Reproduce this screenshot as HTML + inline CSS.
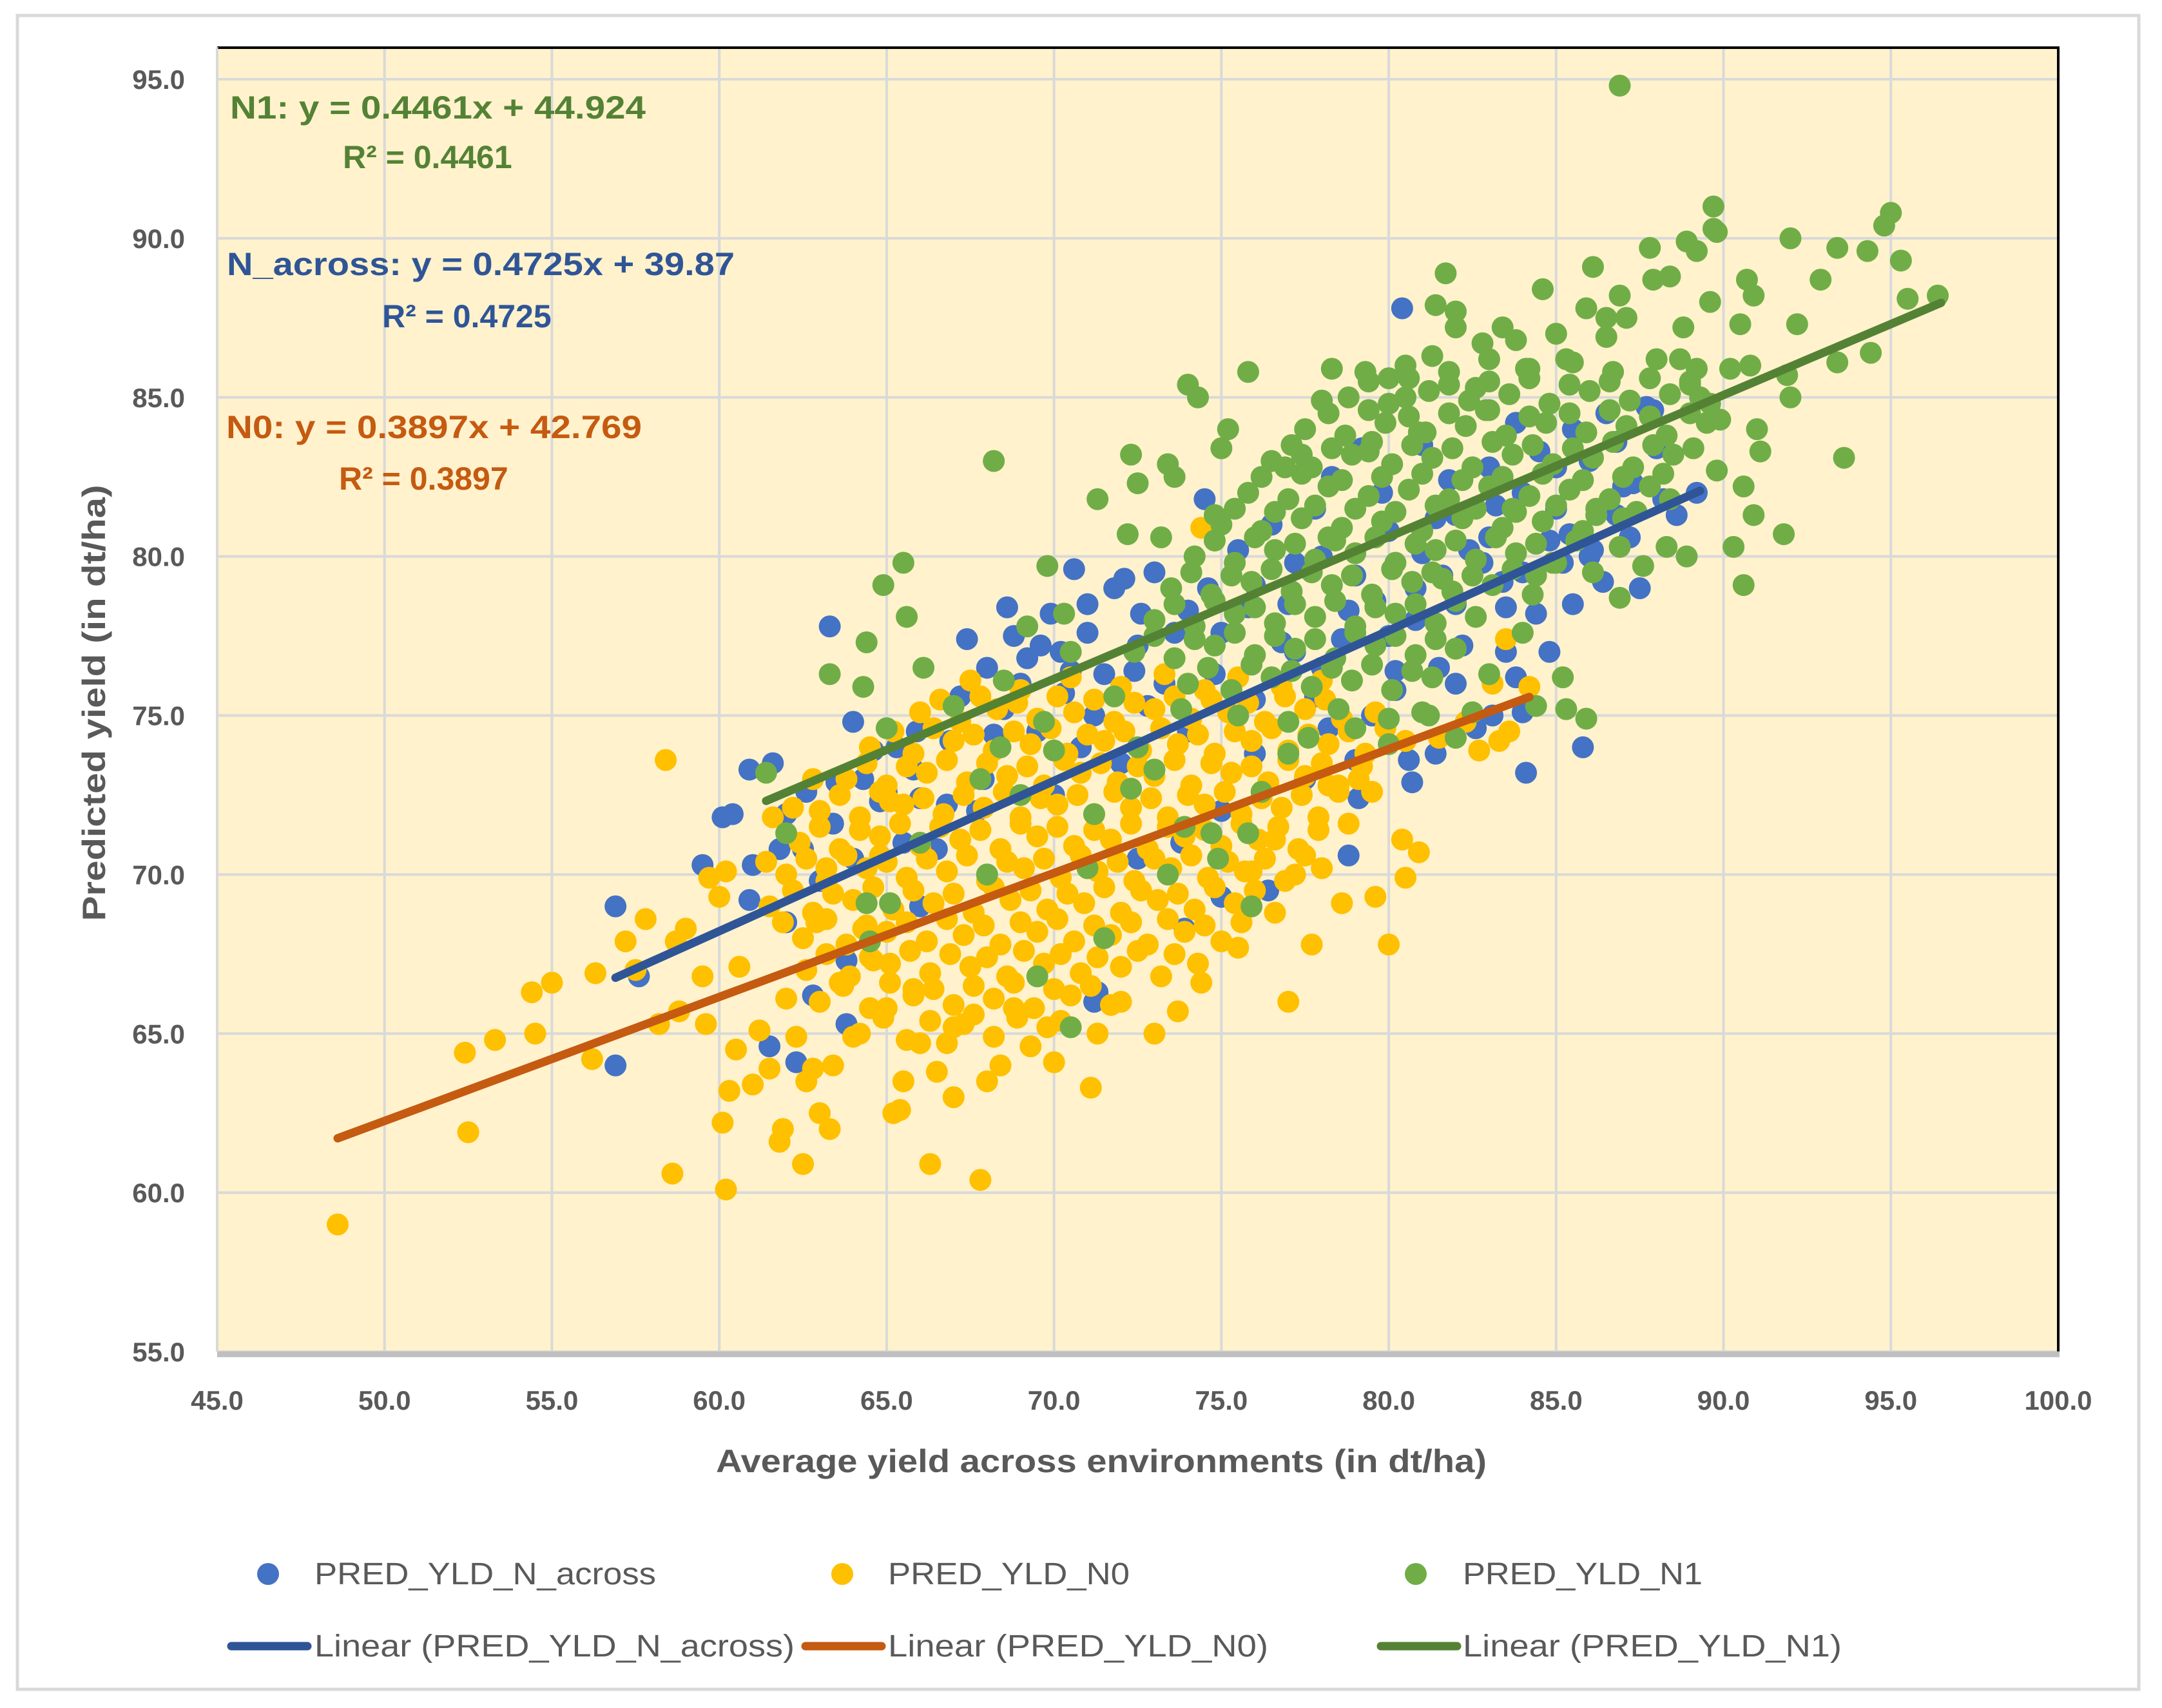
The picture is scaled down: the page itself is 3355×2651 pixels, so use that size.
<!DOCTYPE html>
<html><head><meta charset="utf-8"><style>
html,body{margin:0;padding:0;background:#fff;}
svg{display:block;}
text{font-family:"Liberation Sans",sans-serif;}
</style></head><body>
<svg id="chart" width="3355" height="2651" viewBox="0 0 3355 2651" xmlns="http://www.w3.org/2000/svg">
<rect x="0" y="0" width="3355" height="2651" fill="#fff"/>
<rect x="27" y="24" width="3292" height="2598" fill="none" stroke="#d9d9d9" stroke-width="5"/>
<rect x="337" y="73" width="2857" height="2025" fill="#fff2cc"/>
<g id="grid"></g>
<g id="ptsB"></g>
<g id="ptsY"></g>
<g id="ptsG"></g>
<g id="trends"></g>
<line x1="337" y1="74" x2="3196" y2="74" stroke="#000" stroke-width="4"/>
<line x1="3194" y1="73" x2="3194" y2="2098" stroke="#000" stroke-width="4"/>
<line x1="337" y1="2102" x2="3196" y2="2102" stroke="#bfbfbf" stroke-width="9"/>
<line x1="337" y1="73" x2="337" y2="2098" stroke="#d9d9d9" stroke-width="3"/>
<g id="yticks"></g>
<g id="xticks"></g>
<text x="1709" y="2285" text-anchor="middle" font-size="50" font-weight="bold" fill="#595959" textLength="1196" lengthAdjust="spacingAndGlyphs">Average yield across environments (in dt/ha)</text>
<text transform="translate(163,1091) rotate(-90)" text-anchor="middle" font-size="50" font-weight="bold" fill="#595959" textLength="677" lengthAdjust="spacingAndGlyphs">Predicted yield  (in dt/ha)</text>
<g font-size="50" font-weight="bold" fill="#548235">
<text x="357" y="184" textLength="645" lengthAdjust="spacingAndGlyphs">N1: y = 0.4461x + 44.924</text>
<text x="532" y="261">R² = 0.4461</text></g>
<g font-size="50" font-weight="bold" fill="#2f5597">
<text x="352" y="427" textLength="788" lengthAdjust="spacingAndGlyphs">N_across: y = 0.4725x + 39.87</text>
<text x="593" y="508">R² = 0.4725</text></g>
<g font-size="50" font-weight="bold" fill="#c55a11">
<text x="351" y="680" textLength="645" lengthAdjust="spacingAndGlyphs">N0: y = 0.3897x + 42.769</text>
<text x="526" y="760">R² = 0.3897</text></g>
<g font-size="48" fill="#595959">
<g><circle cx="416" cy="2443" r="17" fill="#4472c4"/><text x="488" y="2459" textLength="530" lengthAdjust="spacingAndGlyphs">PRED_YLD_N_across</text></g>
<g><circle cx="1307" cy="2443" r="17" fill="#ffc000"/><text x="1378" y="2459" textLength="375" lengthAdjust="spacingAndGlyphs">PRED_YLD_N0</text></g>
<g><circle cx="2197" cy="2443" r="17" fill="#70ad47"/><text x="2270" y="2459" textLength="372" lengthAdjust="spacingAndGlyphs">PRED_YLD_N1</text></g>
<g><line x1="359" y1="2555" x2="477" y2="2555" stroke="#2f5597" stroke-width="13" stroke-linecap="round"/><text x="488" y="2571" textLength="745" lengthAdjust="spacingAndGlyphs">Linear (PRED_YLD_N_across)</text></g>
<g><line x1="1250" y1="2555" x2="1368" y2="2555" stroke="#c55a11" stroke-width="13" stroke-linecap="round"/><text x="1378" y="2571" textLength="590" lengthAdjust="spacingAndGlyphs">Linear (PRED_YLD_N0)</text></g>
<g><line x1="2143" y1="2555" x2="2261" y2="2555" stroke="#548235" stroke-width="13" stroke-linecap="round"/><text x="2270" y="2571" textLength="588" lengthAdjust="spacingAndGlyphs">Linear (PRED_YLD_N1)</text></g>
</g>
</svg>
<script>
const xTicks = [45,50,55,60,65,70,75,80,85,90,95,100];
const yTicks = [55,60,65,70,75,80,85,90,95];
const trendN = {slope:0.4725, icpt:39.87, x0:56.9, x1:89.3};
const trendN0 = {slope:0.3897, icpt:42.769, x0:48.6, x1:84.2};
const trendN1 = {slope:0.4461, icpt:44.924, x0:61.4, x1:96.5};
const ptsAcross = [[89.2,82.0],[80.4,87.8],[74.5,81.8],[63.3,77.8],[64.0,74.8],[56.9,69.0],[56.9,64.0],[57.6,66.8],[59.5,70.3],[60.1,71.8],[60.4,71.9],[60.9,73.3],[61.6,73.5],[62.0,71.9],[60.9,69.2],[61.5,64.6],[62.3,64.1],[63.5,72.9],[64.6,73.9],[65.3,74.0],[66.0,72.4],[66.9,74.2],[67.4,77.4],[68.6,78.4],[69.2,76.8],[69.9,78.2],[70.5,76.4],[71.0,77.6],[71.8,79.0],[72.1,79.3],[71.2,66.0],[71.3,66.3],[83.5,78.4],[84.1,73.2],[84.0,75.1],[85.8,74.0],[84.8,77.0],[85.4,80.7],[86.1,80.2],[87.7,84.7],[87.9,84.6],[87.3,82.3],[88.6,81.3],[78.8,70.6],[79.1,72.4],[80.7,72.9],[81.4,73.8],[82.6,74.6],[83.1,75.0],[80.6,73.6],[76.4,69.5],[75.0,69.3],[73.9,68.3],[65.0,72.6],[66.5,70.8],[67.7,72.0],[65.5,71.0],[66.8,72.2],[67.9,73.0],[68.5,75.2],[69.5,74.5],[70.3,75.7],[71.5,76.3],[72.5,77.2],[73.3,76.0],[74.0,78.3],[75.0,77.6],[76.0,79.1],[77.0,78.5],[78.0,80.0],[79.0,79.4],[80.0,80.8],[81.0,80.1],[82.0,81.3],[83.0,80.6],[84.0,82.0],[85.0,81.5],[86.0,83.0],[87.0,82.2],[88.0,83.4],[70.0,72.5],[72.0,73.5],[74.0,74.5],[76.0,75.5],[78.0,76.5],[80.0,77.5],[82.0,78.5],[84.0,79.5],[86.0,80.0],[68.0,70.0],[66.0,69.0],[64.0,70.5],[62.5,70.8],[63.0,69.8],[75.5,80.2],[76.5,81.0],[77.2,79.8],[73.0,79.5],[71.0,78.5],[69.0,76.0],[73.8,71.0],[72.5,70.5],[75.0,72.0],[77.5,73.0],[79.5,75.0],[81.5,76.5],[83.5,77.0],[85.5,78.5],[87.5,79.0],[83.0,82.8],[84.5,83.3],[85.5,84.0],[86.5,84.5],[81.0,83.5],[79.8,82.0],[78.3,82.5],[64.3,73.0],[65.8,73.3],[68.2,74.4],[70.8,74.0],[72.8,75.3],[74.8,76.3],[76.8,77.3],[78.8,78.3],[80.8,79.0],[82.8,79.8],[84.8,80.5],[86.8,81.3],[62.0,68.5],[63.8,67.3],[61.0,70.3],[76.0,73.8],[78.2,74.6],[80.2,75.8],[82.2,77.2],[68.8,77.5],[70.6,79.6],[72.6,78.2],[77.8,81.5],[79.2,83.4],[81.8,82.4],[83.8,84.2],[62.8,66.2],[63.8,65.3],
[64.8,72.3],[65.9,74.5],[67.2,75.6],[68.0,76.5],[69.6,77.2],[70.2,77.0],[71.2,75.0],[72.4,76.4],[73.6,77.6],[74.6,79.0],[75.8,78.4],[77.2,77.0],[78.6,77.4],[79.6,78.6],[80.8,78.0],[81.6,79.4],[82.4,80.2],[83.4,79.2],[84.4,78.2],[85.2,79.8],[86.4,79.2],[87.2,80.6],[88.2,81.8],[86.8,83.6],[85.0,82.8],[83.2,81.6],[81.4,81.2],[80.2,76.4],[82.0,76.0],[83.8,76.2],[79.0,73.6],[77.8,75.6],[62.6,72.6],[61.8,70.8],[63.4,71.6]];
const ptsN0 = [[48.6,59.0],[52.4,64.4],[52.5,61.9],[53.3,64.8],[54.4,66.3],[54.5,65.0],[55.0,66.6],[56.2,64.2],[56.3,66.9],[57.2,67.9],[57.5,67.0],[57.8,68.6],[58.2,65.3],[58.4,73.6],[58.6,60.6],[58.7,67.9],[58.8,65.7],[59.0,68.3],[59.5,66.8],[59.6,65.3],[59.7,69.9],[60.0,69.3],[60.1,62.2],[60.2,60.1],[60.3,63.2],[60.5,64.5],[60.2,70.1],[60.6,67.1],[61.0,63.4],[61.2,65.1],[61.5,63.9],[61.8,61.6],[61.9,62.0],[61.4,70.4],[61.6,71.8],[62.0,66.1],[62.3,64.9],[62.5,60.9],[62.6,63.5],[62.8,63.9],[63.0,62.5],[63.3,62.0],[63.4,64.0],[62.9,68.5],[63.2,70.2],[62.2,72.1],[62.8,73.0],[63.6,66.6],[64.0,64.9],[64.3,68.3],[64.6,67.3],[64.8,70.6],[65.0,65.8],[65.2,62.5],[65.4,62.6],[65.5,63.5],[65.1,72.3],[65.8,66.4],[66.0,64.7],[66.3,60.9],[66.5,63.8],[66.8,64.7],[67.0,63.0],[67.3,65.3],[67.8,60.4],[68.0,63.5],[68.4,64.0],[68.8,65.8],[69.3,64.6],[69.8,65.2],[70.0,64.1],[71.1,63.3],[71.3,65.0],[72.0,66.0],[72.3,68.5],[73.0,65.0],[73.7,65.7],[74.4,66.6],[75.5,67.7],[77.0,66.0],[77.7,67.8],[78.6,69.1],[79.6,69.3],[80.0,67.8],[80.5,69.9],[80.9,70.7],[80.4,71.1],[81.5,74.3],[82.3,74.8],[82.7,73.9],[83.3,74.2],[83.6,74.5],[84.2,75.9],[83.1,76.0],[83.5,77.4],[75.9,70.1],[76.6,71.1],[77.2,70.0],[78.8,71.6],[79.5,72.6],[78.2,72.8],[79.1,73.0],[74.4,80.9],
[67.5,76.1],[69.0,75.8],[70.5,76.2],[72.0,75.9],[73.3,76.3],[74.5,75.8],[75.5,76.2],[76.8,75.9],[78.0,76.1],
[66.0,75.1],[67.2,74.8],[68.3,75.2],[69.5,74.9],[70.6,75.1],[71.8,74.8],[73.0,75.2],[74.1,74.9],[75.2,75.1],[76.3,74.8],[77.5,75.2],[78.6,74.9],[79.6,75.1],
[64.5,74.0],[65.8,73.8],[67.0,74.2],[68.2,73.9],[69.3,74.1],[70.4,73.8],[71.5,74.2],[72.6,73.9],[73.7,74.1],[74.8,73.8],[75.9,74.2],[77.0,73.9],[78.2,74.1],[79.3,73.8],[80.5,74.2],
[63.8,73.0],[65.0,72.8],[66.2,73.2],[67.4,72.9],[68.6,73.1],[69.7,72.8],[70.8,73.2],[71.9,72.9],[73.0,73.1],[74.1,72.8],[75.3,73.2],[76.4,72.9],[77.5,73.1],[78.5,72.8],
[63.0,72.0],[64.2,71.8],[65.5,72.2],[66.7,71.9],[67.9,72.1],[69.0,71.8],[70.1,72.2],[71.2,71.9],[72.3,72.1],[73.4,71.8],[74.5,72.2],[75.6,71.9],[76.8,72.1],[77.9,71.8],
[62.4,71.0],[63.6,70.8],[64.8,71.2],[66.0,70.9],[67.2,71.1],[68.4,70.8],[69.5,71.2],[70.6,70.9],[71.7,71.1],[72.8,70.8],[73.9,71.2],[75.0,70.9],[76.1,71.1],[77.3,70.8],
[62.0,70.0],[63.2,69.8],[64.4,70.2],[65.6,69.9],[66.8,70.1],[68.0,69.8],[69.1,70.2],[70.2,69.9],[71.3,70.1],[72.4,69.8],[73.5,70.2],[74.6,69.9],[75.7,70.1],[76.9,69.8],[78.0,70.2],
[61.5,69.0],[62.8,68.8],[64.0,69.2],[65.2,68.9],[66.4,69.1],[67.6,68.8],[68.7,69.2],[69.8,68.9],[70.9,69.1],[72.0,68.8],[73.1,69.2],[74.2,68.9],[75.4,69.1],[76.6,68.8],
[62.5,68.0],[63.8,67.8],[65.0,68.2],[66.2,67.9],[67.3,68.1],[68.4,67.8],[69.5,68.2],[70.6,67.9],[71.7,68.1],[72.8,67.8],[73.9,68.2],[75.0,67.9],
[62.6,67.0],[63.9,66.8],[65.1,67.2],[66.3,66.9],[67.5,67.1],[68.6,66.8],[69.7,67.2],[70.8,66.9],[72.0,67.1],[73.2,66.8],[74.3,67.2],
[63.0,66.0],[64.5,65.8],[65.8,66.2],[67.0,65.9],[68.2,66.1],[69.4,65.8],[70.5,66.2],[71.7,65.9],
[64.2,65.0],[65.6,64.8],[67.0,65.2],[68.2,64.9],
[66.6,75.5],[67.8,75.6],[68.9,75.4],[70.1,75.6],[71.2,75.5],[72.4,75.4],[73.6,75.6],[74.7,75.5],[75.8,75.4],[76.9,75.6],[78.1,75.5],
[65.2,74.5],[66.4,74.6],[67.6,74.4],[68.8,74.5],[69.9,74.6],[71.0,74.4],[72.1,74.5],[73.2,74.6],[74.3,74.4],[75.4,74.5],[76.5,74.6],[77.6,74.4],[78.8,74.5],[79.9,74.6],
[64.4,73.5],[65.6,73.4],[66.8,73.6],[68.0,73.5],[69.2,73.4],[70.3,73.6],[71.4,73.5],[72.5,73.4],[73.6,73.6],[74.7,73.5],[75.9,73.4],[77.0,73.6],[78.0,73.5],[79.2,73.4],
[63.6,72.5],[64.8,72.6],[66.1,72.4],[67.3,72.5],[68.5,72.6],[69.6,72.4],[70.7,72.5],[71.8,72.6],[72.9,72.4],[74.0,72.5],[75.1,72.6],[76.2,72.4],[77.4,72.5],[78.5,72.6],
[63.0,71.5],[64.2,71.4],[65.4,71.6],[66.6,71.5],[67.8,71.4],[69.0,71.6],[70.1,71.5],[71.2,71.4],[72.3,71.6],[73.4,71.5],[74.5,71.4],[75.6,71.6],[76.7,71.5],[77.9,71.4],
[62.6,70.5],[63.8,70.6],[65.0,70.4],[66.2,70.5],[67.4,70.6],[68.6,70.4],[69.7,70.5],[70.8,70.6],[71.9,70.4],[73.0,70.5],[74.1,70.6],[75.2,70.4],[76.3,70.5],[77.5,70.6],
[62.2,69.5],[63.4,69.4],[64.6,69.6],[65.8,69.5],[67.0,69.4],[68.2,69.6],[69.3,69.5],[70.4,69.4],[71.5,69.6],[72.6,69.5],[73.7,69.4],[74.8,69.6],[76.0,69.5],
[61.9,68.5],[63.2,68.6],[64.4,68.4],[65.6,68.5],[66.8,68.6],[67.9,68.4],[69.0,68.5],[70.1,68.6],[71.2,68.4],[72.3,68.5],[73.4,68.6],[74.5,68.4],[75.6,68.5],
[63.2,67.5],[64.5,67.4],[65.7,67.6],[66.9,67.5],[68.0,67.4],[69.1,67.6],[70.2,67.5],[71.3,67.4],[72.5,67.6],[73.6,67.5],
[63.7,66.5],[65.1,66.6],[66.4,66.4],[67.6,66.5],[68.8,66.6],[70.0,66.4],[71.1,66.5],
[64.9,65.5],[66.3,65.4],[67.6,65.6],[68.9,65.5],[70.2,65.4]];
const ptsN1 = [[86.9,94.8],[89.7,91.0],[89.7,90.3],[95.0,90.8],[94.8,90.4],[95.3,89.3],[96.4,88.2],[95.5,88.1],[94.3,89.6],[93.4,89.7],[92.0,90.0],[92.9,88.7],[93.4,86.1],[94.4,86.4],[93.6,83.1],[91.8,80.7],[90.6,79.1],[90.3,80.3],[90.6,82.2],[90.9,81.3],[91.1,83.3],[92.0,85.0],[68.2,83.0],[65.5,79.8],[64.9,79.1],[65.6,78.1],[69.8,79.7],[63.3,76.3],[64.4,77.3],[64.3,75.9],[65.0,74.6],[61.4,73.2],[62.0,71.3],[64.4,69.1],[65.1,69.1],[64.5,67.9],[67.0,75.3],[66.1,76.5],[68.5,76.1],[69.2,77.8],[70.3,78.2],[71.3,81.8],[72.2,80.7],[72.3,83.2],[72.5,82.3],[74.0,85.4],[74.3,85.0],[75.8,85.8],[73.4,82.9],[73.6,82.5],[73.2,80.6],[75.0,83.4],[75.2,84.0],[74.8,81.3],[76.9,82.8],[77.4,83.2],[78.0,84.9],[78.3,85.9],[79.3,85.8],[80.0,85.6],[80.5,85.0],[81.3,86.3],[81.7,88.9],[81.4,87.9],[82.0,87.7],[82.0,87.2],[82.8,86.7],[82.6,85.3],[83.4,87.2],[84.1,85.9],[84.6,88.4],[85.3,86.2],[85.9,87.8],[86.1,89.1],[86.5,86.9],[86.9,88.2],[87.1,87.5],[87.8,89.7],[87.9,88.7],[88.4,88.8],[88.9,89.9],[89.2,89.6],[89.6,88.0],[89.8,90.2],[90.7,88.7],[90.9,88.2],[92.2,87.3],[88.7,86.2],[89.0,85.5],[89.3,85.0],[89.9,84.3],[90.2,85.9],[90.8,86.0],[91.9,85.7],[84.4,79.4],[84.9,79.8],[85.2,76.2],[85.3,75.2],[85.9,74.9],[86.1,79.5],[86.9,78.7],[87.6,79.7],[88.3,80.3],[88.9,80.0],[86.2,81.3],[84.4,75.3],[83.0,76.3],[82.5,75.1],[82.0,74.3],[81.2,75.0],[80.0,74.1],[79.0,74.6],[77.6,74.3],[77.0,73.8],[76.2,72.6],[74.7,71.3],[75.8,71.3],[73.4,70.0],[73.9,71.5],[74.9,70.5],[71.2,71.9],[72.3,72.7],[72.5,74.0],[70.0,73.9],[69.7,74.8],[68.4,74.0],[75.9,69.0],[71.5,68.0],[69.5,66.8],[70.5,65.2],
[80.5,86.0],[81.8,85.8],[83.0,86.2],[84.2,85.9],[85.5,86.1],[86.7,85.8],[88.0,86.2],[89.2,85.9],
[78.8,85.0],[80.0,84.8],[81.2,85.2],[82.4,84.9],[83.6,85.1],[84.8,84.8],[86.0,85.2],[87.2,84.9],[88.4,85.1],[89.6,84.8],
[77.5,84.0],[78.7,83.8],[79.9,84.2],[81.1,83.9],[82.3,84.1],[83.5,83.8],[84.7,84.2],[85.9,83.9],[87.1,84.1],[88.3,83.8],[89.5,84.2],
[76.5,83.0],[77.7,82.8],[78.9,83.2],[80.1,82.9],[81.3,83.1],[82.5,82.8],[83.7,83.2],[84.9,82.9],[86.1,83.1],[87.3,82.8],[88.5,83.2],
[75.8,82.0],[77.0,81.8],[78.2,82.2],[79.4,81.9],[80.6,82.1],[81.8,81.8],[83.0,82.2],[84.2,81.9],[85.4,82.1],[86.6,81.8],[87.8,82.2],
[75.0,81.0],[76.2,80.8],[77.4,81.2],[78.6,80.9],[79.8,81.1],[81.0,80.8],[82.2,81.2],[83.4,80.9],[84.6,81.1],[85.8,80.8],[87.0,81.2],
[74.2,80.0],[75.4,79.8],[76.6,80.2],[77.8,79.9],[79.0,80.1],[80.2,79.8],[81.4,80.2],[82.6,79.9],[83.8,80.1],[85.0,79.8],
[73.5,79.0],[74.7,78.8],[75.9,79.2],[77.1,78.9],[78.3,79.1],[79.5,78.8],[80.7,79.2],[81.9,78.9],[83.1,79.1],[84.3,78.8],
[73.0,78.0],[74.2,77.8],[75.4,78.2],[76.6,77.9],[77.8,78.1],[79.0,77.8],[80.2,78.2],[81.4,77.9],[82.6,78.1],
[72.4,77.0],[73.6,76.8],[74.8,77.2],[76.0,76.9],[77.2,77.1],[78.4,76.8],[79.6,77.2],[80.8,76.9],[82.0,77.1],
[74.0,76.0],[75.3,75.8],[76.5,76.2],[77.7,75.9],[78.9,76.1],[80.1,75.8],[81.3,76.2],
[75.5,75.0],[77.0,74.8],[78.5,75.2],[80.0,74.9],[81.0,75.1],[86.5,87.5],[85.0,87.0],[83.8,86.8],[88.8,87.2],[90.5,87.3],[91.0,84.0],[89.8,82.7],[88.4,81.8],[86.9,80.3],[83.7,81.5],[79.4,83.3],[80.9,83.9],[82.9,84.6],[78.2,80.6],[81.6,79.3],[84.0,77.6],[76.0,78.4],[73.8,75.2],[71.8,75.6],[70.5,77.0],[69.0,72.5],[67.8,73.0],[66.0,71.0],[68.0,70.0],[71.0,70.2],[73.0,73.3],
[79.4,85.5],[80.6,85.6],[81.8,85.4],[83.0,85.5],[84.2,85.6],[85.4,85.4],[86.6,85.5],[87.8,85.6],[89.0,85.4],
[78.2,84.5],[79.4,84.6],[80.6,84.4],[81.8,84.5],[83.0,84.6],[84.2,84.4],[85.4,84.5],[86.6,84.6],[87.8,84.4],[89.0,84.5],
[77.1,83.5],[78.3,83.4],[79.5,83.6],[80.7,83.5],[81.9,83.4],[83.1,83.6],[84.3,83.5],[85.5,83.4],[86.7,83.6],[87.9,83.5],[89.1,83.4],
[76.2,82.5],[77.4,82.6],[78.6,82.4],[79.8,82.5],[81.0,82.6],[82.2,82.4],[83.4,82.5],[84.6,82.6],[85.8,82.4],[87.0,82.5],[88.2,82.6],
[75.4,81.5],[76.6,81.4],[77.8,81.6],[79.0,81.5],[80.2,81.4],[81.4,81.6],[82.6,81.5],[83.8,81.4],[85.0,81.6],[86.2,81.5],[87.4,81.4],
[74.8,80.5],[76.0,80.6],[77.2,80.4],[78.4,80.5],[79.6,80.6],[80.8,80.4],[82.0,80.5],[83.2,80.6],[84.4,80.4],[85.6,80.5],
[74.1,79.5],[75.3,79.4],[76.5,79.6],[77.7,79.5],[78.9,79.4],[80.1,79.6],[81.3,79.5],[82.5,79.4],[83.7,79.6],
[73.6,78.5],[74.8,78.6],[76.0,78.4],[77.2,78.5],[78.4,78.6],[79.6,78.4],[80.8,78.5],[82.0,78.6],
[73.0,77.5],[74.2,77.4],[75.4,77.6],[76.6,77.5],[77.8,77.4],[79.0,77.6],[80.2,77.5],[81.4,77.4],
[74.6,76.5],[75.9,76.6],[77.1,76.4],[78.3,76.5],[79.5,76.6],[80.7,76.4]];

const NS='http://www.w3.org/2000/svg';
const X0=337, X1=3194, Y0=2098, Y1=123;
function sx(v){return X0+(v-45)/(100-45)*(X1-X0);}
function sy(v){return Y0-(v-55)/(95-55)*(Y0-Y1);}
function mk(tag,attrs,parent){const e=document.createElementNS(NS,tag);for(const k in attrs)e.setAttribute(k,attrs[k]);parent.appendChild(e);return e;}
const grid=document.getElementById('grid');
xTicks.forEach(function(t){
  const l=mk('line',{x1:sx(t),x2:sx(t),y1:73,y2:Y0,stroke:'#d9d9d9','stroke-width':4},grid);
  
  
  const tx=mk('text',{x:sx(t),y:2188,'text-anchor':'middle','font-size':42,'font-weight':'bold',fill:'#595959'},document.getElementById('xticks'));
  tx.textContent=t.toFixed(1);
  
  
});
yTicks.forEach(function(t){
  const l=mk('line',{x1:X0,x2:X1,y1:sy(t),y2:sy(t),stroke:'#d9d9d9','stroke-width':4},grid);
  
  
  const tx=mk('text',{x:287,y:sy(t)+15,'text-anchor':'end','font-size':42,'font-weight':'bold',fill:'#595959'},document.getElementById('yticks'));
  tx.textContent=t.toFixed(1);
  
  
});
function drawPts(arr,gid,col,name){
  const g=document.getElementById(gid);
  arr.forEach(function(p){
    const c=mk('circle',{cx:sx(p[0]),cy:sy(p[1]),r:17,fill:col},g);
    
    
  });
}
drawPts(ptsAcross,'ptsB','#4472c4','point-n-across');
drawPts(ptsN0,'ptsY','#ffc000','point-n0');
drawPts(ptsN1,'ptsG','#70ad47','point-n1');
function drawTrend(t,col,name){
  const l=mk('line',{x1:sx(t.x0),y1:sy(t.slope*t.x0+t.icpt),x2:sx(t.x1),y2:sy(t.slope*t.x1+t.icpt),stroke:col,'stroke-width':13,'stroke-linecap':'round'},document.getElementById('trends'));
  
  
}
drawTrend(trendN,'#2f5597','trendline-n-across');
drawTrend(trendN0,'#c55a11','trendline-n0');
drawTrend(trendN1,'#548235','trendline-n1');
</script>
</body></html>
